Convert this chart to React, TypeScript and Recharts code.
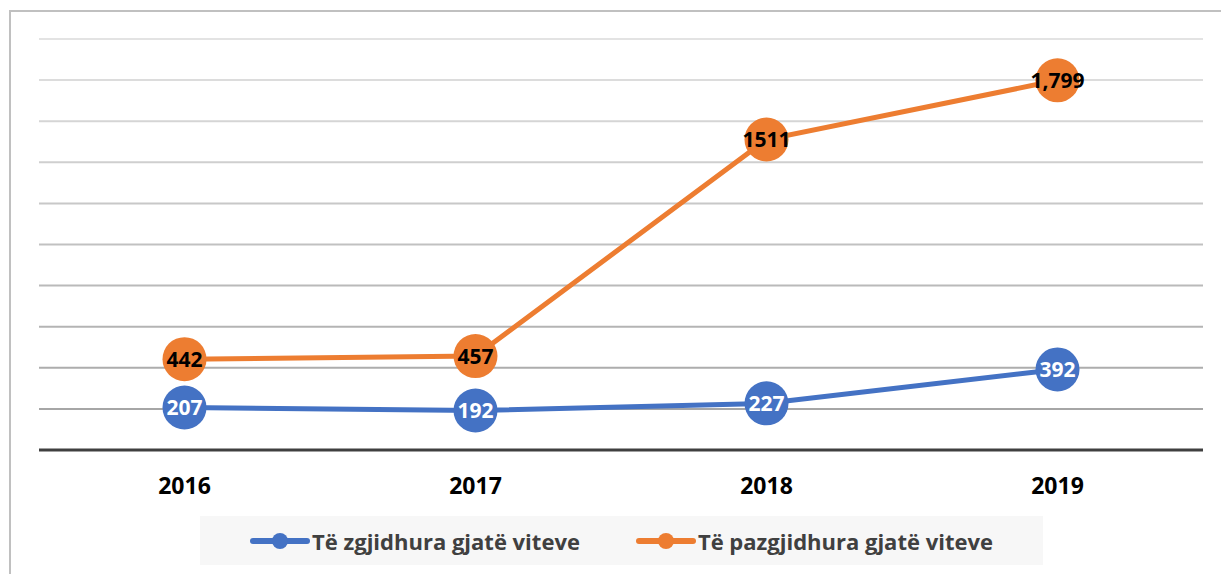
import { LineChart, Line, XAxis, YAxis, ReferenceLine, LabelList } from "recharts";

const years = ["2016", "2017", "2018", "2019"];
const chosen = [207, 192, 227, 392];
const notChosen = [442, 457, 1511, 1799];
const chosenLabels = ["207", "192", "227", "392"];
const notChosenLabels = ["442", "457", "1511", "1,799"];
const gridValues = [200, 400, 600, 800, 1000, 1200, 1400, 1600, 1800, 2000];
const seriesNames = ["Të zgjidhura gjatë viteve", "Të pazgjidhura gjatë viteve"];

const BLUE = "#4472C4";
const ORANGE = "#ED7D31";
const FONT = "'Open Sans', 'Liberation Sans', sans-serif";

const data = years.map((y, i) => ({
  year: y,
  chosen: chosen[i],
  notChosen: notChosen[i],
  chosenLabel: chosenLabels[i],
  notChosenLabel: notChosenLabels[i],
}));

// lower gridlines are darker, fading out toward the top
const gridColor = (i: number) => {
  const t = i / (gridValues.length - 1);
  const c = Math.round(0xa6 + (0xe3 - 0xa6) * t);
  return `rgb(${c},${c},${c})`;
};

function LegendItem({ color, name }: { color: string; name: string }) {
  return (
    <div style={{ display: "flex", alignItems: "center" }}>
      <svg width={60} height={20} style={{ marginRight: 2 }}>
        <line x1={3} y1={10} x2={57} y2={10} stroke={color} strokeWidth={6} strokeLinecap="round" />
        <circle cx={30} cy={10} r={8} fill={color} />
      </svg>
      <span style={{ fontFamily: FONT, fontWeight: 700, fontSize: 22, color: "#404040" }}>{name}</span>
    </div>
  );
}

export default function App() {
  return (
    <div style={{ position: "absolute", left: 0, top: 0, width: 1221, height: 574, overflow: "hidden", background: "#fff" }}>
      <div
        style={{
          position: "absolute",
          left: 9,
          top: 10,
          width: 1400,
          height: 700,
          borderLeft: "2px solid #c0c0c0",
          borderTop: "2px solid #c0c0c0",
        }}
      />
      <div style={{ position: "absolute", left: 0, top: 0 }}>
        <LineChart width={1221} height={574} data={data} margin={{ top: 39, right: 18, bottom: 84, left: 39 }}>
          <YAxis hide domain={[0, 2000]} />
          <XAxis
            dataKey="year"
            height={40}
            padding={{ left: 145.5, right: 145.5 }}
            axisLine={{ stroke: "#404040", strokeWidth: 3 }}
            tickLine={false}
            tickMargin={22}
            tick={{ fill: "#000", fontFamily: FONT, fontWeight: 700, fontSize: 23 }}
          />
          {gridValues.map((v, i) => (
            <ReferenceLine key={v} y={v} stroke={gridColor(i)} strokeWidth={2} />
          ))}
          <Line
            dataKey="chosen"
            stroke={BLUE}
            strokeWidth={5}
            dot={{ r: 22, fill: BLUE, stroke: BLUE, strokeWidth: 0 }}
            isAnimationActive={false}
          >
            <LabelList dataKey="chosenLabel" position="center" fill="#fff" style={{ fontFamily: FONT, fontWeight: 700, fontSize: 21 }} />
          </Line>
          <Line
            dataKey="notChosen"
            stroke={ORANGE}
            strokeWidth={5}
            dot={{ r: 22, fill: ORANGE, stroke: ORANGE, strokeWidth: 0 }}
            isAnimationActive={false}
          >
            <LabelList dataKey="notChosenLabel" position="center" fill="#000" style={{ fontFamily: FONT, fontWeight: 700, fontSize: 21 }} />
          </Line>
        </LineChart>
      </div>
      <div
        style={{
          position: "absolute",
          left: 200,
          top: 516,
          width: 843,
          height: 49,
          background: "#f7f7f7",
          display: "flex",
          alignItems: "center",
          justifyContent: "center",
          gap: 56,
        }}
      >
        <LegendItem color={BLUE} name={seriesNames[0]} />
        <LegendItem color={ORANGE} name={seriesNames[1]} />
      </div>
    </div>
  );
}
